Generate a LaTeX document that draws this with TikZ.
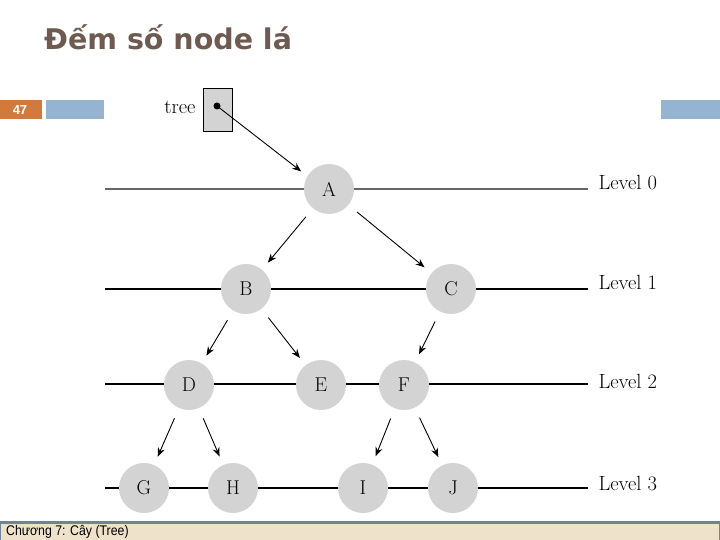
\documentclass[tikz,border=0pt]{standalone}
\usepackage{fontspec}
\newfontfamily\titlefont{DejaVu Sans}
\newfontfamily\footfont{Liberation Sans}
\usetikzlibrary{arrows.meta}
\definecolor{titlecol}{HTML}{6E5A50}
\definecolor{orangebar}{HTML}{D27A3E}
\definecolor{bluebar}{HTML}{94B4D2}
\definecolor{nodegray}{HTML}{D3D3D3}
\definecolor{footbg}{HTML}{EEE2CA}
\definecolor{footline}{HTML}{6F8596}
\tikzset{
  tn/.style={circle, fill=nodegray, minimum size=50pt, inner sep=0pt, font=\fontsize{20}{20}\selectfont},
  lvl/.style={line width=1.2pt},
  lvllab/.style={anchor=west, font=\fontsize{20.5}{20}\selectfont},
  edge/.style={-{Stealth[length=9pt,width=7pt]}, line width=0.9pt, shorten <=11pt, shorten >=9pt}
}
\begin{document}
\begin{tikzpicture}[x=1pt,y=-1pt]
\useasboundingbox (0,0) rectangle (720,540);
% title
\node[anchor=base west, inner sep=0pt, text=titlecol, font=\titlefont\bfseries\fontsize{28.5}{28.5}\selectfont] (title) at (44,50) {Đếm số node lá};
% header bars
\fill[orangebar] (0,100) rectangle (42,119);
\node[text=white, font=\footfont\bfseries\fontsize{13}{13}\selectfont] (num) at (20,110) {47};
\fill[bluebar] (46,100) rectangle (104,119);
\fill[bluebar] (661,100) rectangle (720,119);
% level lines
\draw[lvl, gray!80!black] (105,189) -- (588,189);
\draw[lvl] (105,289) -- (588,289);
\draw[lvl] (105,384) -- (588,384);
\draw[lvl] (105,488) -- (588,488);
\node[lvllab] (l0) at (595,183) {Level 0};
\node[lvllab] (l1) at (595,282) {Level 1};
\node[lvllab] (l2) at (595,381) {Level 2};
\node[lvllab] (l3) at (595,484) {Level 3};
% tree pointer box
\node[draw, line width=0.8pt, fill=nodegray, minimum width=29pt, minimum height=43pt, inner sep=0pt] (box) at (217.5,109.5) {};
\node[anchor=east, font=\fontsize{20.5}{20}\selectfont] (treelab) at (199,107) {tree};
\fill (217,106) circle (3.5pt);
\coordinate (dot) at (217,106);
% nodes
\node[tn] (A) at (329,189) {A};
\node[tn] (B) at (246,289) {B};
\node[tn] (C) at (451,289) {C};
\node[tn] (D) at (189,385) {D};
\node[tn] (E) at (321,385) {E};
\node[tn] (F) at (404,385) {F};
\node[tn] (G) at (144,488) {G};
\node[tn] (H) at (233,488) {H};
\node[tn] (I) at (363,488) {I};
\node[tn] (J) at (453,488) {J};
% edges
\draw[-{Stealth[length=9pt,width=7pt]}, line width=0.9pt, shorten >=1pt] (dot) -- (302,172);
\draw[edge] (A) -- (B);
\draw[edge] (A) -- (C);
\draw[edge] (B) -- (D);
\draw[edge] (B) -- (E);
\draw[edge] (C) -- (F);
\draw[edge] (D) -- (G);
\draw[edge] (D) -- (H);
\draw[edge] (F) -- (I);
\draw[edge] (F) -- (J);
% footer
\fill[footbg] (0,523) rectangle (720,540);
\draw[footline, line width=3pt] (0,522) -- (720,522);
\draw[footline, line width=1pt] (0.5,522) -- (0.5,540) (719.5,522) -- (719.5,540);
\node[anchor=west, font=\footfont\fontsize{14}{14}\selectfont, xscale=0.88, inner sep=0pt] (foot) at (6,531.5) {Chương 7: Cây (Tree)};
\end{tikzpicture}
\end{document}
